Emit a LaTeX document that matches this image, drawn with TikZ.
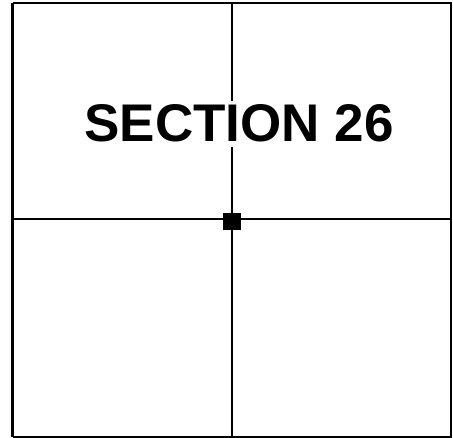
\documentclass[tikz,border=0pt]{standalone}
\usepackage{fontspec}
\setmainfont{Liberation Sans}
\begin{document}
\begin{tikzpicture}[x=1pt,y=-1pt,
  frameline/.style={line width=2.2pt,black},
  gridline/.style={line width=2.4pt,black},
  label/.style={fill=white,inner xsep=0pt,inner ysep=4pt,font=\bfseries\fontsize{53}{60}\selectfont},
  centermark/.style={fill=black,draw=none,minimum width=18pt,minimum height=17pt,inner sep=0pt}]
\useasboundingbox (0,0) rectangle (453,438);
% frame corners
\coordinate (tl) at (12.5,3);
\coordinate (tr) at (451,3);
\coordinate (bl) at (12.5,437);
\coordinate (br) at (451,437);
\coordinate (top) at (232,3);
\coordinate (bot) at (232,437);
\coordinate (lft) at (12.5,219);
\coordinate (rgt) at (451,219);
\draw[frameline] (tl) -- (tr) -- (br) -- (bl);
\draw[line width=3.2pt] (bl) -- (tl);
\draw[gridline] (top) -- (bot);
\draw[gridline] (lft) -- (rgt);
\node[centermark] (c) at (232,221.5) {};
\node[label,anchor=base] (t) at (239,142) {SECTION 26};
\end{tikzpicture}
\end{document}
